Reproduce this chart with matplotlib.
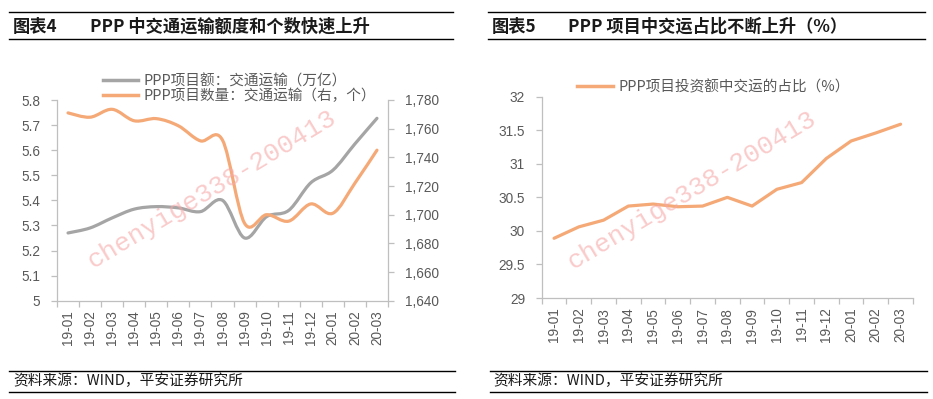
import matplotlib
matplotlib.use("Agg")
import matplotlib.pyplot as plt
from matplotlib.path import Path
from matplotlib.patches import PathPatch
from matplotlib.lines import Line2D
from matplotlib.ticker import FuncFormatter, FixedLocator

plt.rcParams['font.family'] = ['Noto Sans CJK SC', 'DejaVu Sans']

# ---------------- data ----------------
months = ["19-01", "19-02", "19-03", "19-04", "19-05", "19-06", "19-07", "19-08",
          "19-09", "19-10", "19-11", "19-12", "20-01", "20-02", "20-03"]
invest_transport = [5.27, 5.29, 5.33, 5.365, 5.375, 5.37, 5.355, 5.40,
                    5.25, 5.335, 5.36, 5.47, 5.52, 5.625, 5.727]
count_transport = [1771, 1768, 1773.5, 1765.5, 1767, 1762, 1751.5, 1752,
                   1694, 1700, 1695.5, 1707.5, 1701, 1722, 1745]
share_transport = [29.89, 30.06, 30.16, 30.37, 30.40, 30.36, 30.37, 30.50,
                   30.37, 30.62, 30.72, 31.08, 31.34, 31.46, 31.59]

left_ticks = [5.0, 5.1, 5.2, 5.3, 5.4, 5.5, 5.6, 5.7, 5.8]
right_ticks = [1640, 1660, 1680, 1700, 1720, 1740, 1760, 1780]
share_ticks = [29, 29.5, 30, 30.5, 31, 31.5, 32]

title4_tag, title4 = "图表4", "PPP 中交通运输额度和个数快速上升"
title5_tag, title5 = "图表5", "PPP 项目中交运占比不断上升（%）"
leg_invest = "PPP项目额：交通运输（万亿）"
leg_count = "PPP项目数量：交通运输（右，个）"
leg_share = "PPP项目投资额中交运的占比（%）"
source = "资料来源：WIND，平安证券研究所"
watermark = "chenyige338-200413"

# ---------------- style ----------------
GREY = "#A5A5A5"
ORANGE = "#F4A977"
SPINE = "#BFBFBF"
TICKC = "#595959"
W, H = 933, 399
TICKFONT = dict(family=['Liberation Sans', 'DejaVu Sans'], size=9.8)
CJK = ['Noto Sans CJK SC', 'DejaVu Sans']


def smooth_path(xs, ys):
    verts = [(xs[0], ys[0])]
    codes = [Path.MOVETO]
    n = len(xs)
    for i in range(n - 1):
        p0 = i - 1 if i > 0 else i
        p3 = i + 2 if i + 2 < n else i + 1
        c1 = (xs[i] + (xs[i + 1] - xs[p0]) / 6, ys[i] + (ys[i + 1] - ys[p0]) / 6)
        c2 = (xs[i + 1] - (xs[p3] - xs[i]) / 6, ys[i + 1] - (ys[p3] - ys[i]) / 6)
        verts += [c1, c2, (xs[i + 1], ys[i + 1])]
        codes += [Path.CURVE4] * 3
    return Path(verts, codes)


def fx(px):
    return px / W


def fy(py):
    return 1 - py / H


def style_xaxis(ax):
    n = len(months)
    ax.set_xlim(-0.5, n - 0.5)
    ax.set_xticks(range(n))
    ax.set_xticklabels(months, rotation=90, color=TICKC, **TICKFONT)
    ax.xaxis.set_minor_locator(FixedLocator([i - 0.5 for i in range(n + 1)]))
    ax.tick_params(axis='x', which='major', length=0, pad=7)
    ax.tick_params(axis='x', which='minor', length=4, color=SPINE, width=0.9)


def style_yticks(a):
    for lab in a.get_yticklabels():
        lab.set_fontfamily(TICKFONT['family'])
        lab.set_fontsize(TICKFONT['size'])
    a.tick_params(axis='y', length=4, color=SPINE, labelcolor=TICKC, pad=8, width=0.9)


fig = plt.figure(figsize=(9.33, 3.99), dpi=100)

# ---------------- left chart ----------------
ax = fig.add_axes([fx(57), fy(300.7), fx(388 - 57), (300.7 - 100) / H])
x = list(range(len(months)))
ax.add_patch(PathPatch(smooth_path(x, invest_transport), fill=False,
                       edgecolor=GREY, lw=2.3, capstyle='round', joinstyle='round'))
ax.set_ylim(5.0, 5.8)
ax.set_yticks(left_ticks)
ax.yaxis.set_major_formatter(FuncFormatter(lambda v, p: f"{v:g}"))
style_yticks(ax)
style_xaxis(ax)
for s in ['top', 'right']:
    ax.spines[s].set_visible(False)
for s in ['left', 'bottom']:
    ax.spines[s].set_color(SPINE)
    ax.spines[s].set_linewidth(0.9)

ax2 = ax.twinx()
ax2.add_patch(PathPatch(smooth_path(x, count_transport), fill=False,
                        edgecolor=ORANGE, lw=2.3, capstyle='round', joinstyle='round'))
ax2.set_ylim(1640, 1780)
ax2.set_yticks(right_ticks)
ax2.yaxis.set_major_formatter(FuncFormatter(lambda v, p: f"{int(v):,}"))
style_yticks(ax2)
for s in ['top', 'left', 'bottom']:
    ax2.spines[s].set_visible(False)
ax2.spines['right'].set_color(SPINE)
ax2.spines['right'].set_linewidth(0.9)

handles = [Line2D([], [], color=GREY, lw=2.5), Line2D([], [], color=ORANGE, lw=2.5)]
leg = fig.legend(handles, [leg_invest, leg_count], loc='upper left',
                 bbox_to_anchor=(fx(103), fy(74)), frameon=False,
                 prop=dict(family=CJK, size=10.5),
                 handlelength=2.4, handletextpad=0.4, labelspacing=0.0,
                 borderpad=0, borderaxespad=0)
for t in leg.get_texts():
    t.set_color(TICKC)

# ---------------- right chart ----------------
bx = fig.add_axes([fx(541.7), fy(298), fx(913 - 541.7), (298 - 96.7) / H])
bx.plot(x, share_transport, color=ORANGE, lw=2.3, solid_capstyle='round')
bx.set_ylim(29, 32)
bx.set_yticks(share_ticks)
bx.yaxis.set_major_formatter(FuncFormatter(lambda v, p: f"{v:g}"))
style_yticks(bx)
style_xaxis(bx)
for s in ['top', 'right']:
    bx.spines[s].set_visible(False)
for s in ['left', 'bottom']:
    bx.spines[s].set_color(SPINE)
    bx.spines[s].set_linewidth(0.9)

leg2 = fig.legend([Line2D([], [], color=ORANGE, lw=2.5)], [leg_share], loc='upper left',
                  bbox_to_anchor=(fx(577), fy(80)), frameon=False,
                  prop=dict(family=CJK, size=10.5),
                  handlelength=2.5, handletextpad=0.35, borderpad=0, borderaxespad=0)
for t in leg2.get_texts():
    t.set_color(TICKC)

# ---------------- titles, rules, sources ----------------
for (x0, x1, tagx, tx, tag, title) in [(9, 453, 13, 90, title4_tag, title4),
                                      (488, 925, 492, 568, title5_tag, title5)]:
    fig.add_artist(Line2D([fx(x0), fx(x1)], [fy(12.3), fy(12.3)], color='black', lw=1.0))
    fig.add_artist(Line2D([fx(x0), fx(x1)], [fy(39.3), fy(39.3)], color='black', lw=1.0))
    fig.text(fx(tagx), fy(27), tag, fontsize=12.4, fontweight='bold', va='center',
             ha='left', color='#1a1a1a', family=CJK)
    fig.text(fx(tx), fy(27), title, fontsize=12.4, fontweight='bold', va='center',
             ha='left', color='#1a1a1a', family=CJK)

for (x0, x1, sx) in [(9, 455, 13), (490, 927, 493)]:
    fig.add_artist(Line2D([fx(x0), fx(x1)], [fy(370.5), fy(370.5)], color='black', lw=1.0))
    fig.add_artist(Line2D([fx(x0), fx(x1)], [fy(392), fy(392)], color='black', lw=1.0))
    fig.text(fx(sx), fy(381), source, fontsize=10.6, style='italic', va='center', ha='left',
             color='#1a1a1a', family=CJK)

# watermarks
for (cx, cy) in [(212, 189), (692, 190)]:
    fig.text(fx(cx), fy(cy), watermark, fontsize=19, rotation=31, ha='center', va='center',
             color='#F7A8A8', alpha=0.6, family=['Liberation Mono', 'DejaVu Sans Mono'],
             rotation_mode='anchor', zorder=10)

fig.savefig("out.png", dpi=100)
